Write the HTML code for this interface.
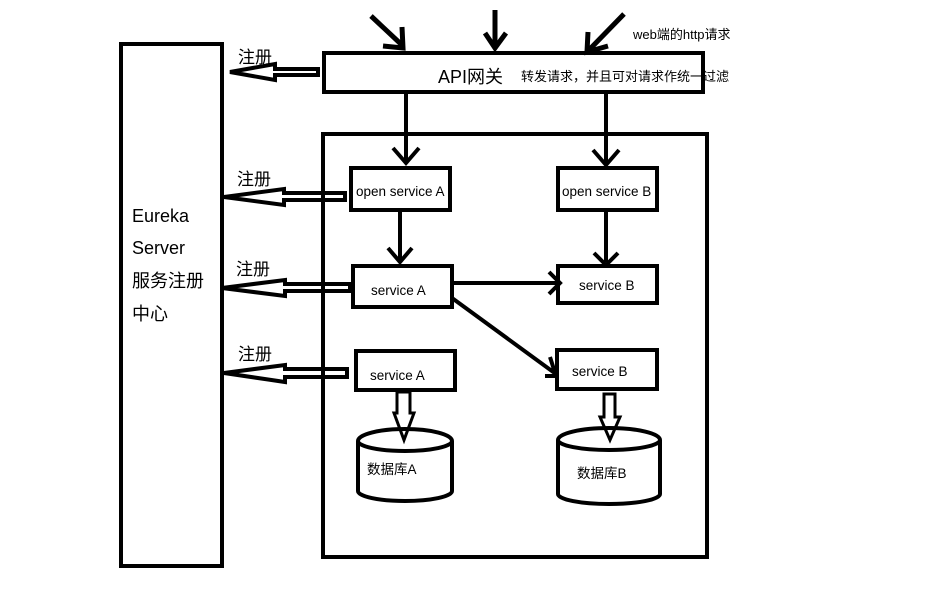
<!DOCTYPE html>
<html><head><meta charset="utf-8"><style>
html,body{margin:0;padding:0;background:#fff;}
svg{display:block;}
text{font-family:"Liberation Sans","Noto Sans CJK SC",sans-serif;fill:#000;}
</style></head><body>
<svg width="950" height="591" viewBox="0 0 950 591" xmlns="http://www.w3.org/2000/svg">
<g fill="none" stroke="#000" stroke-width="4" stroke-linejoin="miter">
<rect x="121" y="44" width="101" height="522"/>
<rect x="324" y="53" width="379" height="39"/>
<rect x="323" y="134" width="384" height="423"/>
<rect x="351" y="168" width="99" height="42"/>
<rect x="558" y="168" width="99" height="42"/>
<rect x="353" y="266" width="99" height="41"/>
<rect x="558" y="266" width="99" height="37"/>
<rect x="356" y="351" width="99" height="39"/>
<rect x="557" y="350" width="100" height="39"/>
<path d="M358 441 A47 12 0 0 1 452 441 L452 491 A47 10 0 0 1 358 491 Z"/>
<path d="M358 441 A47 10 0 0 0 452 441"/>
<path d="M558 440 A51 12 0 0 1 660 440 L660 494 A51 10 0 0 1 558 494 Z"/>
<path d="M558 440 A51 10 0 0 0 660 440"/>
<g stroke-width="5">
<path d="M371 16 L403 46 M402 27 L403 48 L383 46"/>
<path d="M495 10 L495 48 M485 33 L495 48 L506 33"/>
<path d="M624 14 L587 52 M588 32 L587 52 L608 46"/>
</g>
<path d="M406 90 L406 163 M393 148 L406 163 L419 148"/>
<path d="M606 92 L606 163 M593 150 L606 165 L619 150"/>
<path d="M400 210 L400 262 M388 248 L400 262 L412 248"/>
<path d="M606 210 L606 262 M594 253 L606 265 L618 253"/>
<path d="M452 283 L560 283 M549 272 L560 283 L549 294"/>
<path d="M452 298 L556 374 M550 357 L556 376 L545 376"/>
<path d="M397 392 L410 392 L410 413 L414 413 L404 440 L394 413 L397 413 Z" stroke-width="3"/>
<path d="M604 394 L615 394 L615 417 L620 417 L610 440 L600 417 L604 417 Z" stroke-width="3"/>
<path d="M230 72 L275 64 L275 69 L318 69 L318 75 L275 75 L275 80 Z"/>
<path d="M224 197 L284 189 L284 193 L345 193 L345 200 L284 200 L284 205 Z"/>
<path d="M222 288 L285 280 L285 284 L350 284 L350 291 L285 291 L285 296 Z"/>
<path d="M224 373 L285 365 L285 369 L347 369 L347 377 L285 377 L285 382 Z"/>
</g>
<text x="132" y="222" font-size="18">Eureka</text>
<text x="132" y="254" font-size="18">Server</text>
<text x="132" y="287" font-size="18">服务注册</text>
<text x="132" y="320" font-size="18">中心</text>
<text x="238" y="63" font-size="17">注册</text>
<text x="237" y="185" font-size="17">注册</text>
<text x="236" y="275" font-size="17">注册</text>
<text x="238" y="360" font-size="17">注册</text>
<text x="438" y="83" font-size="18">API网关</text>
<text x="521" y="81" font-size="13">转发请求，并且可对请求作统一过滤</text>
<text x="633" y="39" font-size="13">web端的http请求</text>
<text x="356" y="196" font-size="13.5">open service A</text>
<text x="562" y="196" font-size="13.5">open service B</text>
<text x="371" y="295" font-size="13.5">service A</text>
<text x="579" y="290" font-size="13.5">service B</text>
<text x="370" y="380" font-size="13.5">service A</text>
<text x="572" y="376" font-size="13.5">service B</text>
<text x="367" y="474" font-size="13.5">数据库A</text>
<text x="577" y="478" font-size="13.5">数据库B</text>
</svg>
</body></html>
